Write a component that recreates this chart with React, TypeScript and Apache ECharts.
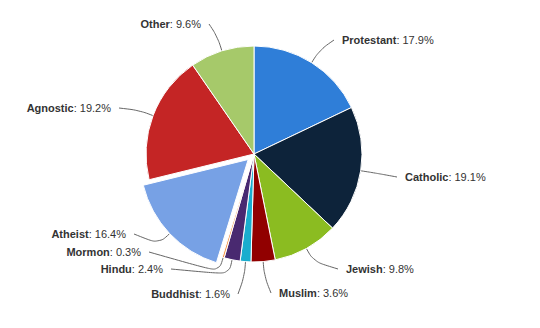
import React, { useEffect, useRef } from "react";
import * as echarts from "echarts";

const categories = ["Protestant", "Catholic", "Jewish", "Muslim", "Buddhist", "Hindu", "Mormon", "Atheist", "Agnostic", "Other"];
const values = [17.9, 19.1, 9.8, 3.6, 1.6, 2.4, 0.3, 16.4, 19.2, 9.6];
const colors = ["#2f7ed8", "#0d233a", "#8bbc21", "#910000", "#1aadce", "#492970", "#f28f43", "#77a1e5", "#c42525", "#a6c96a"];
const explodedCategory = "Atheist";

// Layout only
const CX = 254;
const CY = 154;
const R = 108;
const BREAK = 15;
const EXPLODE = 8;
const GAP = 8;
const labelPlacement: Record<string, { x: number; y: number; align: "left" | "right" }> = {
  Protestant: { x: 342, y: 40, align: "left" },
  Catholic: { x: 405, y: 177, align: "left" },
  Jewish: { x: 346, y: 269, align: "left" },
  Muslim: { x: 279, y: 293, align: "left" },
  Buddhist: { x: 230, y: 294, align: "right" },
  Hindu: { x: 163, y: 269, align: "right" },
  Mormon: { x: 141, y: 252, align: "right" },
  Atheist: { x: 126, y: 234, align: "right" },
  Agnostic: { x: 111, y: 108, align: "right" },
  Other: { x: 201, y: 24, align: "right" },
};

export default function App() {
  const ref = useRef<HTMLDivElement>(null);
  useEffect(() => {
    document.body.style.margin = "0";
    const chart = echarts.init(ref.current!, null, { renderer: "svg" });
    const font = "Liberation Sans, Arial, sans-serif";

    // direction of the exploded slice, from the data
    const total = values.reduce((a, b) => a + b, 0);
    const ei = categories.indexOf(explodedCategory);
    const before = values.slice(0, ei).reduce((a, b) => a + b, 0);
    const theta = ((before + values[ei] / 2) / total) * Math.PI * 2;
    const ox = Math.sin(theta) * EXPLODE;
    const oy = -Math.cos(theta) * EXPLODE;
    const clear = "rgba(0,0,0,0)";

    chart.setOption({
      animation: false,
      backgroundColor: "#ffffff",
      series: [
        {
          type: "pie",
          center: [CX, CY],
          radius: R,
          startAngle: 90,
          clockwise: true,
          avoidLabelOverlap: false,
          itemStyle: { borderColor: "#ffffff", borderWidth: 1 },
          label: {
            show: true,
            position: "outside",
            formatter: "{n|{b}}: {c}%",
            color: "#333333",
            fontSize: 11,
            fontFamily: font,
            rich: {
              n: { fontWeight: "bold", color: "#333333", fontSize: 11, fontFamily: font },
            },
          },
          labelLine: {
            show: true,
            length: 30,
            length2: 10,
            smooth: 0.4,
            lineStyle: { color: "#666666", width: 1 },
          },
          labelLayout: (params: any) => {
            const name = categories[params.dataIndex];
            const pos = labelPlacement[name];
            if (!pos || !params.labelLinePoints) return {};
            let p0 = params.labelLinePoints[0];
            const dx = p0[0] - CX;
            const dy = p0[1] - CY;
            const len = Math.hypot(dx, dy) || 1;
            if (name === explodedCategory) p0 = [p0[0] + ox, p0[1] + oy];
            const brk = [p0[0] + (dx / len) * BREAK, p0[1] + (dy / len) * BREAK];
            const endX = pos.align === "left" ? pos.x - GAP : pos.x + GAP;
            return {
              x: pos.x,
              y: pos.y,
              align: pos.align,
              verticalAlign: "middle",
              labelLinePoints: [p0, brk, [endX, pos.y]],
            };
          },
          emphasis: { disabled: true },
          data: categories.map((name, i) => ({
            name,
            value: values[i],
            itemStyle:
              name === explodedCategory
                ? { color: clear, borderWidth: 0 }
                : { color: colors[i] },
          })),
        },
        {
          type: "pie",
          center: [CX + ox, CY + oy],
          radius: R,
          startAngle: 90,
          clockwise: true,
          silent: true,
          label: { show: false },
          labelLine: { show: false },
          emphasis: { disabled: true },
          data: categories.map((name, i) => ({
            name,
            value: values[i],
            itemStyle:
              name === explodedCategory
                ? { color: colors[i], borderColor: "#ffffff", borderWidth: 1 }
                : { color: clear, borderWidth: 0 },
          })),
        },
      ],
    });
    return () => chart.dispose();
  }, []);
  return <div ref={ref} style={{ width: 540, height: 328 }} />;
}
